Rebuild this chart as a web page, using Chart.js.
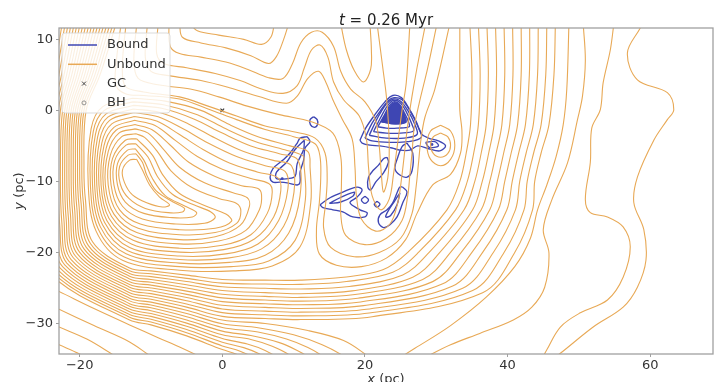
<!DOCTYPE html>
<html>
<head>
<meta charset="utf-8">
<script src="https://cdn.jsdelivr.net/npm/chart.js@4.4.1/dist/chart.umd.min.js"></script>
<style>
  html, body { margin: 0; padding: 0; background: #ffffff; }
  canvas { display: block; }
</style>
</head>
<body>
<canvas id="chart" width="722" height="382"></canvas>
<script>
// ---- axes ----
const xTicks = [-20, 0, 20, 40, 60];
const yTicks = [10, 0, -10, -20, -30];
const xRange = [-22.9, 68.8];
const yRange = [-34.3, 11.6];

// ---- markers ----
const gcPosition = [[0, 0]];
const bhPosition = [[23.75, 0.1]];
const boundPeaks = [[29.4, -4.8], [8.4, -9.6]];

// ---- unbound stars: wide arcs sweeping round the south ----
const unboundWideArcs = [
  [[-14.9,12.2],[-17.15,5],[-19.1,0],[-19.4,-8],[-19.2,-12.5],[-18.2,-18.5],[-13,-22.2],[-10,-22.6],[-5,-23.2],[0,-23.8],[6,-23.9],[11,-23.9],[17,-23.5],[22.5,-22.45],[26,-20],[31.5,-14],[33.3,-10],[34.2,-6],[34.8,-2],[35,5],[34.7,12.2]],
  [[-15.32,12.2],[-17.51,5],[-19.4,0],[-19.7,-8],[-19.5,-12.8],[-18.5,-18.75],[-13,-22.59],[-10,-23],[-5,-23.65],[0,-24.32],[6,-24.45],[11,-24.5],[17.4,-24.1],[23.9,-22.8],[27.5,-20],[32.7,-14],[34.35,-10],[35.25,-6],[35.9,-2],[36.15,5],[35.9,12.2]],
  [[-15.74,12.2],[-17.87,5],[-19.7,0],[-20,-8],[-19.8,-13.1],[-18.8,-19],[-13,-22.97],[-10,-23.4],[-5,-24.1],[0,-24.84],[6,-25.05],[11,-25.15],[17.8,-24.8],[25.3,-23.17],[29,-20],[33.9,-14],[35.4,-10],[36.3,-6],[37,-2],[37.3,5],[37.1,12.2]],
  [[-16.16,12.2],[-18.23,5],[-20,0],[-20.3,-8],[-20.1,-13.4],[-19.1,-19.25],[-13,-23.36],[-10,-23.8],[-5,-24.55],[0,-25.36],[6,-25.66],[11,-25.81],[18.2,-25.41],[26.7,-23.49],[30.5,-20],[35.1,-14],[36.45,-10],[37.35,-6],[38.1,-2],[38.45,5],[38.3,12.2]],
  [[-16.58,12.2],[-18.59,5],[-20.3,0],[-20.6,-8],[-20.4,-13.7],[-19.4,-19.5],[-13,-23.74],[-10,-24.2],[-5,-25],[0,-25.88],[6,-26.18],[11,-26.33],[18.6,-25.93],[28.1,-23.8],[32,-20],[36.3,-14],[37.5,-10],[38.4,-6],[39.2,-2],[39.6,5],[39.5,12.2]],
  [[-17,12.2],[-18.95,5],[-20.6,0],[-20.9,-8],[-20.7,-14],[-19.7,-19.75],[-13,-24.13],[-10,-24.6],[-5,-25.45],[0,-26.4],[6,-26.7],[11,-26.85],[19,-26.45],[29.5,-24.11],[33.5,-20],[37.5,-14],[38.55,-10],[39.45,-6],[40.3,-2],[40.75,5],[40.7,12.2]],
  [[-17.42,12.2],[-19.31,5],[-20.9,0],[-21.2,-8],[-21,-14.3],[-20,-20],[-13,-24.51],[-10,-25],[-5,-25.9],[0,-26.92],[6,-27.22],[11,-27.37],[19.4,-26.97],[30.9,-24.42],[35,-20],[38.7,-14],[39.6,-10],[40.5,-6],[41.4,-2],[41.9,5],[41.9,12.2]],
  [[-17.84,12.2],[-19.67,5],[-21.2,0],[-21.5,-8],[-21.3,-14.6],[-20.3,-20.25],[-13,-24.9],[-10,-25.4],[-5,-26.35],[0,-27.44],[6,-27.74],[11,-27.89],[19.8,-27.49],[32.3,-24.73],[36.5,-20],[39.9,-14],[40.65,-10],[41.55,-6],[42.5,-2],[43.05,5],[43.1,12.2]],
  [[-18.26,12.2],[-20.03,5],[-21.5,0],[-21.8,-8],[-21.6,-14.9],[-20.6,-20.5],[-13,-25.28],[-10,-25.8],[-5,-26.8],[0,-27.96],[6,-28.26],[11,-28.41],[20.2,-28.01],[33.7,-25.05],[38,-20],[41.1,-14],[41.7,-10],[42.6,-6],[43.6,-2],[44.2,5],[44.3,12.2]],
  [[-18.68,12.2],[-20.39,5],[-21.8,0],[-22.1,-8],[-21.9,-15.2],[-20.9,-20.75],[-13,-25.67],[-10,-26.2],[-5,-27.25],[0,-28.48],[6,-28.78],[11,-28.93],[20.6,-28.53],[35.1,-25.36],[39.5,-20],[42.3,-14],[42.75,-10],[43.65,-6],[44.7,-2],[45.35,5],[45.5,12.2]],
  [[-19.1,12.2],[-20.75,5],[-22.1,0],[-22.4,-8],[-22.2,-15.5],[-21.2,-21],[-13,-26.05],[-10,-26.6],[-5,-27.7],[0,-29],[6,-29.3],[11,-29.45],[21,-29.05],[36.5,-25.67],[41,-20],[43.5,-14],[43.8,-10],[44.7,-6],[45.8,-2],[46.5,5],[46.7,12.2]]
];

// ---- unbound stars: arcs that leave through the southern edge ----
const unboundSouthArcs = [
  [[-19.52,12.2],[-21.11,5],[-22.4,0],[-22.7,-8],[-22.5,-15.8],[-21.5,-21.25],[-13,-26.44],[-10,-27],[-5,-28.15],[0,-29.52],[6,-30],[12,-31],[17,-32.4],[20,-34.3],[22,-36]],
  [[-19.94,12.2],[-21.47,5],[-22.7,0],[-23,-8],[-22.8,-16.1],[-21.8,-21.5],[-13,-26.82],[-10,-27.4],[-5,-28.6],[0,-30.04],[5,-30.6],[10,-31.6],[14,-33],[17,-34.6],[18.5,-36]],
  [[-20.36,12.2],[-21.83,5],[-23,0],[-23.3,-8],[-23.1,-16.4],[-22.1,-21.75],[-13,-27.21],[-10,-27.8],[-5,-29.05],[0,-30.56],[5,-31.2],[9,-32.2],[12,-33.4],[14.5,-34.9],[15.5,-36]],
  [[-20.78,12.2],[-22.19,5],[-23.3,0],[-23.6,-8],[-23.4,-16.7],[-22.4,-22],[-13,-27.59],[-10,-28.2],[-5,-29.5],[0,-31.08],[4,-31.7],[8,-32.7],[10.5,-33.8],[12.5,-35],[13.5,-36]],
  [[-21.2,12.2],[-22.55,5],[-23.6,0],[-23.9,-8],[-23.7,-17],[-22.7,-22.25],[-13,-27.98],[-10,-28.6],[-5,-29.95],[0,-31.6],[4,-32.25],[7,-33.2],[9.5,-34.5],[10.8,-36]],
  [[-21.62,12.2],[-22.91,5],[-23.9,0],[-24.2,-8],[-24,-17.3],[-23,-22.5],[-13,-28.36],[-10,-29],[-5,-30.4],[0,-32.12],[3.5,-32.9],[6,-33.8],[8,-35],[9,-36]],
  [[-22.04,12.2],[-23.27,5],[-24.2,0],[-24.5,-8],[-24.3,-17.6],[-23.3,-22.75],[-13,-28.75],[-10,-29.4],[-5,-30.85],[0,-32.64],[3,-33.4],[5,-34.2],[6.8,-35.3],[7.5,-36]],
  [[-22.46,12.2],[-23.63,5],[-24.5,0],[-24.8,-8],[-24.6,-17.9],[-23.6,-23],[-13,-29.13],[-10,-29.8],[-5,-31.3],[0,-33.16],[2.5,-33.9],[4.3,-34.8],[5.5,-36]],
  [[-22.88,12.2],[-23.99,5],[-24.8,0],[-25.1,-8],[-24.9,-18.2],[-23.9,-23.25],[-13,-29.52],[-10,-30.2],[-5,-31.75],[0,-33.68],[2,-34.35],[3.4,-35.2],[4.3,-36]],
  [[-24,-25],[-22.9,-25.5],[-18,-27.9],[-13,-30.2],[-9,-32],[-6,-33.3],[-3.5,-34.5],[-2,-35.3]],
  [[-24,-27.5],[-22.9,-28],[-18,-30.3],[-13,-32.6],[-10.5,-34.3],[-9.5,-35]],
  [[-24,-30],[-22.9,-30.5],[-19,-32.2],[-15.5,-34.3],[-14.5,-35]],
  [[-24,-32.5],[-22.9,-33],[-20,-34.3],[-19,-35]]
];

// ---- unbound stars: lines rising on the east side ----
const unboundEast = [
  [[23,-36],[27,-33.5],[32,-30.3],[37,-26.3],[41,-22],[43.2,-18],[44.2,-14],[45.5,-10.5],[46.8,-6.5],[47.8,-2],[48.3,3],[48.6,12.2]],
  [[50.6,12.2],[50.9,7],[50.5,2],[49.8,-1.3],[48.4,-7.4],[46.2,-12.6],[45,-16.8],[45.8,-20.1],[45.2,-24.9],[43.4,-27.7],[40.8,-29.5],[36.1,-31.4],[32,-33],[28,-35]],
  [[54.9,12.2],[54.4,8.5],[53.4,3.9],[53,0.1],[51.8,-2.5],[51.6,-7.3],[50.9,-12.5],[51.6,-14.4],[54,-15],[56.2,-16.4],[57.2,-19.2],[56.2,-23.5],[54,-26.7],[50.2,-28.5],[47.4,-30.5],[45.5,-33.7],[44.8,-35]],
  [[59,12.4],[58.6,11.6],[56.8,8.1],[58.2,4.3],[62.4,2.5],[63.3,0.1],[62.4,-1.3],[60.5,-4.2],[58.2,-9.4],[57.7,-13],[59.1,-16.8],[59.4,-21.1],[58.2,-24.9],[56.2,-27.7],[52,-30.5],[47.4,-34.2],[46,-35.2]]
];

// ---- unbound stars: closed loops round the western hollow ----
const unboundIsland = [
  [[-12,-6.9],[-13,-7],[-14,-8.4],[-13.7,-10.2],[-12.6,-11.9],[-10.6,-13],[-8.4,-13.6],[-7.4,-13.3],[-8.8,-12.2],[-10.2,-10.5],[-11.2,-8.4],[-12,-6.9]],
  [[-12.1,-6.1],[-13.2,-6.3],[-14.4,-7.9],[-14.3,-10.4],[-13.1,-12.4],[-10.8,-13.8],[-7.6,-14.4],[-5.6,-14.3],[-5.3,-13.8],[-6.9,-12.9],[-9.3,-11.3],[-10.6,-9.1],[-11.2,-7.3],[-12.1,-6.1]],
  [[-12.2,-5.4],[-13.3,-5.6],[-14.7,-7.5],[-14.7,-10.5],[-13.6,-12.9],[-11,-14.5],[-7,-15.1],[-4.2,-15],[-3.6,-14.4],[-5.2,-13.5],[-8,-12],[-9.8,-9.6],[-11,-7],[-12.2,-5.4]],
  [[-12.1,-4.7],[-13.5,-4.9],[-15.1,-7.1],[-15.2,-10.5],[-14,-13.5],[-11.2,-15.3],[-6.5,-16],[-2.5,-15.9],[-1,-15.1],[-1.6,-14.3],[-4,-13.3],[-7,-11.8],[-9.1,-9.3],[-10.4,-6.6],[-12.1,-4.7]],
  [[-12,-4],[-13.6,-4.2],[-15.4,-6.8],[-15.6,-10.5],[-14.4,-14],[-11.5,-16],[-6,-16.8],[-1,-16.6],[1.3,-15.6],[0.5,-14.6],[-2.5,-13.4],[-6,-11.7],[-8.4,-9],[-9.8,-6.3],[-12,-4]],
  [[-12.1,-3.3],[-14.1,-3.7],[-15.7,-6.3],[-16,-10.5],[-14.8,-14.3],[-11.8,-16.6],[-6,-17.5],[-1,-17.2],[2,-15.9],[2.6,-14.2],[2,-13.1],[-0.5,-12.4],[-4.2,-10.9],[-7.2,-8.5],[-9.1,-5.8],[-10.9,-3.8],[-12.1,-3.3]],
  [[-12.2,-2.6],[-14.5,-3.2],[-16,-5.8],[-16.4,-10.5],[-15.2,-14.6],[-12,-17.2],[-6,-18.2],[-1,-17.8],[2.5,-16.2],[3.8,-13.5],[3.5,-12.3],[1.5,-11.6],[-2.5,-10.2],[-6,-8],[-8.4,-5.3],[-10.4,-3.2],[-12.2,-2.6]],
  [[-12.25,-2],[-14.9,-2.8],[-16.3,-5.4],[-16.7,-10.5],[-15.55,-14.9],[-12.25,-17.75],[-6,-18.8],[-0.5,-18.4],[3.3,-16.9],[5.2,-14],[5.5,-11.9],[5,-11],[2.7,-10.6],[-1,-9.3],[-4.7,-7.3],[-7.4,-4.8],[-9.9,-2.7],[-12.25,-2]],
  [[-12.3,-1.4],[-15.2,-2.4],[-16.6,-5],[-17,-10.5],[-15.9,-15.2],[-12.5,-18.3],[-6,-19.4],[0,-19],[4,-17.5],[6.3,-14.5],[7,-11.5],[6.5,-10.3],[4,-9.6],[0,-8.3],[-3.5,-6.5],[-6.5,-4.3],[-9.5,-2.1],[-12.3,-1.4]],
  [[-12.35,-0.85],[-15.5,-1.9],[-16.9,-4.6],[-17.3,-10.5],[-16.2,-15.5],[-12.75,-18.8],[-6,-19.95],[0.2,-19.6],[4.5,-18.1],[7.2,-15],[8.2,-11.3],[7.8,-9.5],[5,-8.7],[1,-7.4],[-2.7,-5.5],[-6,-3.4],[-9.2,-1.5],[-12.35,-0.85]],
  [[-12.4,-0.3],[-15.8,-1.4],[-17.2,-4.2],[-17.6,-10.5],[-16.5,-15.8],[-13,-19.3],[-6,-20.5],[0.5,-20.2],[5,-18.8],[7.9,-15.5],[9.2,-11],[8.8,-8.6],[6,-7.8],[2,-6.5],[-2,-4.6],[-5.5,-2.6],[-9,-0.9],[-12.4,-0.3]],
  [[-12.45,0.2],[-16.05,-0.95],[-17.5,-3.8],[-17.9,-10.5],[-16.8,-16.1],[-13.25,-19.75],[-6,-21],[0.75,-20.8],[5.5,-19.5],[8.6,-16.3],[10.05,-11.5],[9.7,-7.8],[7,-7],[3,-5.8],[-1,-3.9],[-4.75,-1.9],[-8.75,-0.3],[-12.45,0.2]],
  [[-12.5,0.7],[-16.3,-0.5],[-17.8,-3.4],[-18.2,-10.5],[-17.1,-16.4],[-13.5,-20.2],[-6,-21.5],[1,-21.4],[6,-20.4],[9.3,-17.3],[10.9,-12],[10.6,-7],[8,-6.1],[4,-5],[0,-3.2],[-4,-1.2],[-8.5,0.3],[-12.5,0.7]],
  [[-12.55,1.2],[-16.55,0],[-18.1,-3],[-18.5,-10.5],[-17.4,-16.7],[-13.75,-20.65],[-6,-22],[1.25,-22],[6.5,-21.2],[10.2,-18.3],[11.65,-12.5],[11.45,-7.5],[11.3,-6.4],[8.75,-5.55],[4.5,-4.35],[0.5,-2.6],[-3.5,-0.6],[-8.25,0.8],[-12.55,1.2]],
  [[-12.6,1.7],[-16.8,0.5],[-18.4,-2.6],[-18.8,-10.5],[-17.7,-17],[-14,-21.1],[-6,-22.5],[1.5,-22.6],[7,-21.9],[10.9,-19.2],[12.4,-13],[12.3,-8],[12,-5.8],[9.5,-5],[5,-3.7],[1,-2],[-3,0],[-8,1.3],[-12.6,1.7]]
];

// ---- unbound stars: arcs from the north round the bound clumps ----
const unboundInnerArcs = [
  [[-7.5,12.2],[-7.3,9],[-6,8],[-3,7.5],[0.5,6.8],[3.5,5.8],[6.5,4.6],[8.5,4.5],[9.8,6.5],[11,9.5],[12.5,11],[14,11],[15.6,9],[16.6,5.5],[18,3],[20,1.2],[21.5,-1.5],[22,-5],[22.3,-9],[22.6,-11.5],[23.2,-9.5],[23.4,-6],[23.3,-2],[23,2],[22.5,6],[21.7,12.2]],
  [[-9,12.2],[-9.2,8],[-8.2,6.6],[-5,6],[-1,5.2],[2.5,4.2],[5.5,3],[8.5,2.4],[10.5,3.5],[11.5,6],[12.5,8.5],[13.7,9.2],[14.8,7.5],[15.6,4],[17,1.5],[19.2,-0.8],[20.2,-4],[20.5,-8],[21,-12],[22.2,-14],[23.4,-12.5],[24,-9],[24.4,-6],[24.8,-3],[25.2,0],[25.8,4],[26.3,12.2]],
  [[-10.5,12.2],[-10.8,7.5],[-10,5.5],[-7.5,4.9],[-3,4.2],[1,3.2],[5,2],[9,1],[10.5,2],[12,4.5],[13.5,5.5],[14.5,4],[15.5,1.5],[16.8,-1.2],[18.2,-4],[18.6,-8],[18.8,-12],[19.5,-15.3],[21.5,-17],[23.5,-16],[24.6,-13],[25.2,-9],[25.6,-5.5],[26,-2],[26.6,2],[27.3,6],[28.5,12.2]],
  [[-12,12.2],[-12.4,7],[-11.8,4.5],[-9,3.6],[-4.5,3],[-0.5,1.9],[3.5,0.6],[8,-0.6],[12.5,-1.6],[15.5,-3.2],[16.6,-6.5],[16.7,-10.5],[16.6,-14.5],[17.3,-17.6],[20,-18.9],[23,-18],[25.2,-15.5],[26,-12],[26.3,-9],[26.6,-6],[26.9,-2.5],[27.6,1],[28.8,6],[30.1,12.2]],
  [[-13.5,12.2],[-14,6.5],[-13.6,3.4],[-11,2.6],[-6,1.9],[-2,0.6],[2,-0.8],[6,-2.2],[10,-3],[13,-3.9],[14.4,-6],[14.7,-9.5],[14.5,-13],[14.2,-16.5],[15.2,-19.3],[18.5,-20.6],[22,-20],[25,-18],[26.6,-14.5],[27.2,-10.5],[27.5,-7.5],[27.8,-4.5],[28.4,-1],[29.8,3],[31.9,12.2]],
  [[-14.2,12.2],[-14.9,6.5],[-14.9,3.5],[-13.5,2.3],[-11,2.1],[-6,1.6],[-2,0.2],[2,-1.3],[6,-2.7],[10,-3.7],[13,-4.7],[13.7,-6.5],[13.8,-9.5],[13.6,-13],[13.2,-16.8],[13.6,-20.2],[16,-21.8],[19.5,-22],[23,-20.8],[25.7,-18.2],[27.3,-14.5],[29.5,-10.5],[32,-9],[33.4,-6],[33.6,-3],[33.3,0],[33.3,5],[33.3,12.2]]
];

// ---- unbound stars: ripples in the north ----
const unboundNorthWaves = [
  [[-6,12.2],[-5.6,10.3],[-3,9.5],[0.5,8.8],[4,7.7],[6.5,6.6],[7.6,7.6],[8.6,10],[9.3,12.2]],
  [[-4.5,12.2],[-3.5,11.2],[-0.5,10.6],[3,10],[5.5,9.3],[6.8,10.3],[7.3,12.2]],
  [[16.6,12.2],[17.4,8.5],[18.5,5.6],[19.8,4],[20.8,5.8],[20.9,8.5],[20.7,12.2]]
];

// ---- unbound stars: rings east of the black hole ----
const unboundRings = [
  [[30.6,-3.2],[31.6,-3.7],[32,-4.9],[31.6,-6.1],[30.6,-6.6],[29.6,-6.1],[29.2,-4.9],[29.6,-3.7],[30.6,-3.2]],
  [[30.6,-2.1],[32,-2.9],[32.6,-4.9],[32,-6.9],[30.6,-7.8],[29.2,-6.9],[28.7,-4.9],[29.2,-2.9],[30.6,-2.1]]
];

// ---- bound stars: the clump round the black hole ----
const boundCore = [
  [[19.3,-4.2],[20.1,-2.5],[21.4,-0.6],[22.8,1.2],[23.9,2.1],[25.1,1.8],[26.1,0.4],[27.2,-1.6],[27.9,-3.3],[28.9,-3.9],[30.3,-4.3],[31.3,-5],[30.5,-5.7],[28.9,-5.4],[27.4,-5],[26.3,-5.6],[24.9,-5.6],[23.8,-5.3],[22.1,-5],[20.7,-4.9],[19.6,-4.6],[19.3,-4.2]],
  [[20,-3.9],[21,-1.8],[22.2,0],[23.3,1.4],[24.1,1.8],[25.2,1.5],[26.4,-0.2],[27.4,-2.2],[27.9,-3.8],[26,-4.4],[23.5,-4.5],[21,-4.3],[20,-3.9]],
  [[20.6,-3.5],[21.8,-1],[23,0.9],[24,1.6],[25,1.3],[26,0],[27,-2],[27.3,-3.4],[25.5,-3.9],[23,-3.9],[20.6,-3.5]],
  [[21.2,-3],[22.2,-1],[23.2,0.7],[24,1.4],[24.9,1.1],[25.8,-0.2],[26.6,-2],[26.8,-2.9],[25,-3.2],[23,-3.2],[21.2,-3]],
  [[21.8,-2.3],[22.7,-0.7],[23.4,0.6],[24,1.2],[24.8,0.9],[25.5,-0.3],[26.1,-1.6],[26.2,-2.3],[24.5,-2.5],[23,-2.5],[21.8,-2.3]],
  [[22.3,-1.6],[23,-0.4],[23.6,0.6],[24.1,1.05],[24.7,0.8],[25.3,-0.2],[25.7,-1.2],[25.7,-1.7],[24.2,-1.9],[22.3,-1.6]],
  [[22.8,-0.9],[23.4,0.1],[23.8,0.7],[24.2,0.95],[24.6,0.7],[25,0],[25.3,-0.7],[25.2,-1.1],[24,-1.2],[22.8,-0.9]],
  [[23.2,-0.3],[23.7,0.4],[24.1,0.75],[24.5,0.5],[24.8,0],[24.8,-0.4],[24,-0.5],[23.2,-0.3]]
];
const boundCoreFill = [[22.3,-1.6],[23,-0.4],[23.6,0.6],[24.1,1.05],[24.7,0.8],[25.3,-0.2],[25.7,-1.2],[25.7,-1.7],[24.2,-1.9],[22.3,-1.6]];

// ---- bound stars: stripped streams and knots ----
const boundStreams = [
  [[12.8,-0.9],[13.3,-1.3],[13.35,-2],[12.9,-2.4],[12.35,-2],[12.3,-1.3],[12.8,-0.9]],
  [[11.9,-3.7],[12.3,-4.4],[11.6,-5.3],[11.4,-7],[10.9,-8.7],[10.9,-10.1],[10.5,-10.5],[9.1,-10.2],[8.1,-10.1],[7.1,-10.1],[6.7,-9.4],[7.1,-8.2],[8.5,-7],[9.5,-6],[10.5,-4.6],[10.9,-3.9],[11.9,-3.7]],
  [[11.5,-4.2],[11.4,-5.5],[10.5,-7.5],[10.2,-9.3],[9.2,-9.6],[7.6,-9.6],[7.6,-8.7],[9,-7.3],[10.2,-5.5],[11.5,-4.2]],
  [[13.7,-13.3],[15.1,-12.3],[16.9,-11.5],[18.9,-10.8],[19.6,-11.2],[18.9,-12.2],[17.9,-13],[19.3,-14],[20.3,-14.4],[20,-15],[18.3,-15],[16.9,-14.3],[15.5,-14],[14.1,-13.7],[13.7,-13.3]],
  [[15,-13.1],[16.5,-12.3],[18.5,-11.5],[18.3,-12.1],[16.6,-12.9],[15,-13.1]],
  [[23.1,-6.6],[23.3,-7.3],[22.6,-8.8],[21.5,-10.1],[20.8,-11.2],[20.4,-10.8],[20.5,-9.4],[21.2,-8.4],[21.9,-7.7],[22.6,-6.8],[23.1,-6.6]],
  [[25.9,-4.6],[26.7,-6],[26.6,-8.5],[25.9,-9.4],[24.9,-9.1],[24.2,-8.2],[24.6,-6.6],[25.2,-5.1],[25.9,-4.6]],
  [[25.3,-10.8],[25.9,-11.5],[25.3,-13],[24.5,-15],[23.5,-16.1],[22.6,-16.5],[21.9,-15.8],[22.1,-14.7],[23.1,-14],[23.9,-13],[24.5,-11.6],[24.9,-10.8],[25.3,-10.8]],
  [[24.9,-11.6],[24.5,-13.3],[23.6,-14.8],[22.9,-15],[23.4,-13.9],[24.2,-12.7],[24.9,-11.6]],
  [[20,-12.1],[20.5,-12.6],[20,-13.1],[19.5,-12.6],[20,-12.1]],
  [[21.7,-12.8],[22.1,-13.2],[21.7,-13.6],[21.3,-13.2],[21.7,-12.8]],
  [[28.5,-4.5],[29.8,-4.4],[30.3,-5],[29,-5.2],[28.5,-4.5]]
];

// ---- styling ----
const ORANGE = '#e8a956';
const BLUE = '#3e46b3';
const FONT = '"DejaVu Sans", "Liberation Sans", sans-serif';

const asXY = pts => pts.map(([x, y]) => ({ x, y }));
const contour = (pts, color, width) => ({
  data: asXY(pts),
  showLine: true,
  borderColor: color,
  borderWidth: width,
  pointRadius: 0,
  pointHoverRadius: 0,
  tension: 0.35,
  fill: false
});

const datasets = [];
[unboundWideArcs, unboundSouthArcs, unboundEast, unboundIsland,
 unboundInnerArcs, unboundNorthWaves, unboundRings].forEach(group =>
  group.forEach(line => datasets.push(contour(line, ORANGE, 1.1))));
datasets.push(Object.assign(contour(boundCoreFill, BLUE, 1.3), {
  fill: 'shape', backgroundColor: BLUE
}));
boundCore.forEach(line => datasets.push(contour(line, BLUE, 1.35)));
boundStreams.forEach(line => datasets.push(contour(line, BLUE, 1.35)));
datasets.push({
  data: asXY(boundPeaks), showLine: false, pointRadius: 1.4,
  pointBackgroundColor: BLUE, pointBorderWidth: 0
});
datasets.push({
  data: asXY(gcPosition), showLine: false, pointStyle: 'crossRot',
  pointRadius: 2.6, pointBorderColor: '#333', pointBorderWidth: 1.1
});
datasets.push({
  data: asXY(bhPosition), showLine: false, pointStyle: 'circle',
  pointRadius: 2.2, pointBackgroundColor: '#ffffff',
  pointBorderColor: '#d8d8f0', pointBorderWidth: 0.8
});

const minus = v => (v < 0 ? '\u2212' + Math.abs(v) : String(v));

// frame, title, axis labels and the legend box
const decorations = {
  id: 'decorations',
  afterDatasetsDraw(chart) {
    const ctx = chart.ctx;
    const a = chart.chartArea;
    ctx.save();
    const lx = a.left + 3, ly = a.top + 5, lw = 108, lh = 80;
    ctx.fillStyle = 'rgba(255,255,255,0.82)';
    ctx.strokeStyle = 'rgba(215,215,215,0.9)';
    ctx.lineWidth = 1;
    ctx.beginPath();
    ctx.roundRect(lx, ly, lw, lh, 3);
    ctx.fill();
    ctx.stroke();
    const rows = [
      { label: 'Bound', kind: 'line', color: BLUE },
      { label: 'Unbound', kind: 'line', color: ORANGE },
      { label: 'GC', kind: 'cross' },
      { label: 'BH', kind: 'circle' }
    ];
    ctx.font = '13px ' + FONT;
    ctx.textBaseline = 'middle';
    ctx.textAlign = 'left';
    rows.forEach((r, k) => {
      const cy = ly + 12 + k * 19.3;
      if (r.kind === 'line') {
        ctx.strokeStyle = r.color;
        ctx.lineWidth = 1.5;
        ctx.beginPath();
        ctx.moveTo(lx + 6, cy);
        ctx.lineTo(lx + 35, cy);
        ctx.stroke();
      } else if (r.kind === 'cross') {
        ctx.strokeStyle = '#444';
        ctx.lineWidth = 1;
        ctx.beginPath();
        ctx.moveTo(lx + 20, cy - 2); ctx.lineTo(lx + 24, cy + 2);
        ctx.moveTo(lx + 24, cy - 2); ctx.lineTo(lx + 20, cy + 2);
        ctx.stroke();
      } else {
        ctx.strokeStyle = '#888';
        ctx.lineWidth = 0.9;
        ctx.beginPath();
        ctx.arc(lx + 22, cy, 2, 0, Math.PI * 2);
        ctx.stroke();
      }
      ctx.fillStyle = '#333';
      ctx.fillText(r.label, lx + 45, cy);
    });
    ctx.restore();
  },
  afterDraw(chart) {
    const ctx = chart.ctx;
    const a = chart.chartArea;
    ctx.save();
    ctx.strokeStyle = '#a0a0a0';
    ctx.lineWidth = 1.3;
    ctx.strokeRect(a.left, a.top, a.right - a.left, a.bottom - a.top);

    const mixed = (parts, cx, cy, size) => {
      let total = 0;
      parts.forEach(p => {
        ctx.font = (p.italic ? 'italic ' : '') + size + 'px ' + FONT;
        p.w = ctx.measureText(p.text).width;
        total += p.w;
      });
      let x = cx - total / 2;
      parts.forEach(p => {
        ctx.font = (p.italic ? 'italic ' : '') + size + 'px ' + FONT;
        ctx.fillText(p.text, x, cy);
        x += p.w;
      });
    };
    ctx.fillStyle = '#222';
    ctx.textAlign = 'left';
    ctx.textBaseline = 'alphabetic';
    const cxMid = (a.left + a.right) / 2;
    mixed([{ text: 't', italic: true }, { text: ' = 0.26 Myr' }], cxMid, 25, 15);
    ctx.fillStyle = '#333';
    mixed([{ text: 'x', italic: true }, { text: ' (pc)' }], cxMid, 383, 13);
    ctx.translate(23, (a.top + a.bottom) / 2);
    ctx.rotate(-Math.PI / 2);
    mixed([{ text: 'y', italic: true }, { text: ' (pc)' }], 0, 0, 13);
    ctx.restore();
  }
};

new Chart(document.getElementById('chart'), {
  type: 'scatter',
  data: { datasets },
  options: {
    responsive: false,
    animation: false,
    devicePixelRatio: 1,
    events: [],
    layout: { padding: { top: 28, right: 9, left: 0, bottom: 0 } },
    plugins: {
      legend: { display: false },
      tooltip: { enabled: false },
      title: { display: false }
    },
    scales: {
      x: {
        type: 'linear',
        min: xRange[0],
        max: xRange[1],
        afterBuildTicks: s => { s.ticks = xTicks.map(v => ({ value: v })); },
        afterFit: s => { s.height = 28; },
        border: { display: false },
        grid: { display: true, drawOnChartArea: false, drawTicks: true, tickLength: 3, color: '#a0a0a0', lineWidth: 1 },
        ticks: { autoSkip: false, maxRotation: 0, padding: 1, color: '#333', font: { family: FONT, size: 13 }, callback: v => minus(v) }
      },
      y: {
        type: 'linear',
        min: yRange[0],
        max: yRange[1],
        afterBuildTicks: s => { s.ticks = yTicks.map(v => ({ value: v })); },
        afterFit: s => { s.width = 59; },
        border: { display: false },
        grid: { display: true, drawOnChartArea: false, drawTicks: true, tickLength: 3, color: '#a0a0a0', lineWidth: 1 },
        ticks: { autoSkip: false, padding: 3, color: '#333', font: { family: FONT, size: 13 }, callback: v => minus(v) }
      }
    }
  },
  plugins: [decorations]
});
</script>
</body>
</html>
